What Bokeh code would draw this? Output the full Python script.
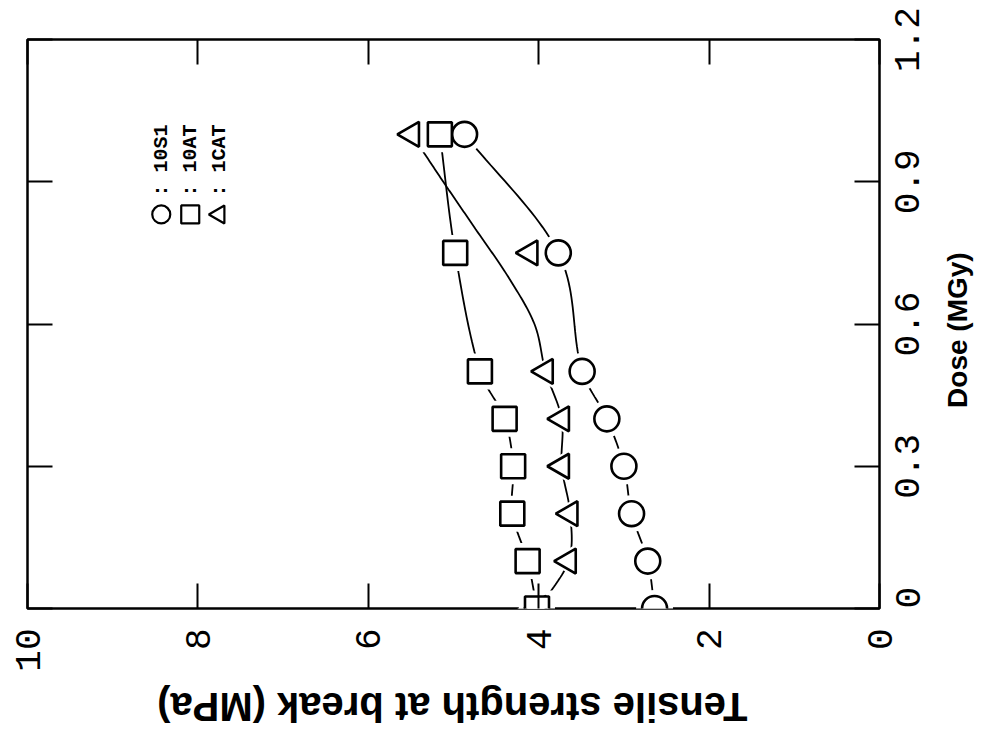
import numpy as np
from bokeh.plotting import figure
from bokeh.models import Range1d, LinearAxis, FixedTicker, ColumnDataSource
from bokeh.core.properties import value
from bokeh.embed import file_html
from bokeh.resources import INLINE

# Irradiation dose (MGy) and tensile strength at break (MPa) for each compound
dose = [0.0, 0.1, 0.2, 0.3, 0.4, 0.5, 0.75, 1.0]
ts_10s1 = [2.64, 2.72, 2.91, 3.00, 3.20, 3.49, 3.77, 4.87]
ts_10at = [4.02, 4.13, 4.31, 4.30, 4.40, 4.69, 4.98, 5.16]
ts_1cat = [4.00, 3.65, 3.63, 3.73, 3.73, 3.92, 4.10, 5.49]

# trend line drawn for 1CAT above 0.5 MGy (passes beside the 0.75 MGy point)
fit_1cat_dose = [0.6, 0.7, 0.8, 0.9]
fit_1cat_ts = [4.05, 4.36, 4.74, 5.12]

series_names = ["10S1", "10AT", "1CAT"]

ts_ticks = [0, 2, 4, 6, 8, 10]
ts_tick_labels = ["0", "2", "4", "6", "8", "10"]
dose_ticks = [0, 0.3, 0.6, 0.9, 1.2]
dose_tick_labels = ["0", "0.3", "0.6", "0.9", "1.2"]

ts_title = "Tensile strength at break (MPa)"
dose_title = "Dose (MGy)"

# pixel geometry of the plotting frame
FRAME_W, FRAME_H = 853, 569
TS_MIN, TS_MAX, DOSE_MIN, DOSE_MAX = 0, 10, 0, 1.2
px_per_ts = FRAME_W / (TS_MAX - TS_MIN)
px_per_dose = FRAME_H / (DOSE_MAX - DOSE_MIN)

TICK_FONT_PX = 36
MONO_ADVANCE = 0.6          # Liberation Mono advance width, in em
TS_TITLE_PX, DOSE_TITLE_PX = 40, 28
TS_TITLE_EM, DOSE_TITLE_EM = 14.84, 5.56   # Liberation Sans Bold string widths, in em


def smooth(xs, ys, n=24):
    """Cubic Hermite curve through the nodes (Catmull-Rom style tangents)."""
    xs = np.asarray(xs, float)
    ys = np.asarray(ys, float)
    m = np.empty_like(ys)
    m[1:-1] = (ys[2:] - ys[:-2]) / (xs[2:] - xs[:-2])
    m[0] = (ys[1] - ys[0]) / (xs[1] - xs[0])
    m[-1] = (ys[-1] - ys[-2]) / (xs[-1] - xs[-2])
    out_x, out_y = [], []
    for i in range(len(xs) - 1):
        h = xs[i + 1] - xs[i]
        t = np.linspace(0, 1, n, endpoint=(i == len(xs) - 2))
        h00 = 2 * t**3 - 3 * t**2 + 1
        h10 = t**3 - 2 * t**2 + t
        h01 = -2 * t**3 + 3 * t**2
        h11 = t**3 - t**2
        out_x.extend(xs[i] + t * h)
        out_y.extend(h00 * ys[i] + h10 * h * m[i] + h01 * ys[i + 1] + h11 * h * m[i + 1])
    return out_x, out_y


p = figure(width=991, height=753, x_range=Range1d(TS_MAX, TS_MIN), y_range=Range1d(DOSE_MIN, DOSE_MAX),
           output_backend="svg", toolbar_location=None,
           x_axis_location="below", y_axis_location="right",
           min_border_left=27, min_border_right=111, min_border_top=39, min_border_bottom=145,
           background_fill_color="white", border_fill_color="white")
p.grid.visible = False
p.outline_line_color = "black"
p.outline_line_width = 2.5

bottom_axis = p.below[0]
right_axis = p.right[0]
top_axis = LinearAxis()
left_axis = LinearAxis()
p.add_layout(top_axis, "above")
p.add_layout(left_axis, "left")

# inward tick marks on all four sides
for ax, ticks in [(bottom_axis, ts_ticks), (top_axis, ts_ticks),
                  (right_axis, dose_ticks), (left_axis, dose_ticks)]:
    ax.ticker = FixedTicker(ticks=ticks, minor_ticks=[])
    ax.major_tick_in = 25
    ax.major_tick_out = 0
    ax.minor_tick_in = 0
    ax.minor_tick_out = 0
    ax.major_tick_line_width = 2
    ax.major_tick_line_color = "black"
    ax.axis_line_color = None

for ax in (top_axis, left_axis, right_axis):
    ax.major_label_text_font_size = "1px"
    ax.major_label_text_color = None
    ax.major_label_standoff = 0

# tensile strength numbers, turned to read upwards
bottom_axis.major_label_overrides = dict(zip(ts_ticks, ts_tick_labels))
bottom_axis.major_label_orientation = np.pi / 2
bottom_axis.major_label_text_font = "Liberation Mono"
bottom_axis.major_label_text_font_size = f"{TICK_FONT_PX}px"
bottom_axis.major_label_text_color = "black"
bottom_axis.major_label_standoff = 20

# dose numbers: an upward label starts at its anchor, so the anchor sits half a label below the tick
def dose_label_anchor(tick, label):
    if tick <= DOSE_MIN:
        return tick
    return tick - 0.5 * len(label) * MONO_ADVANCE * TICK_FONT_PX / px_per_dose

dose_label_pos = [round(dose_label_anchor(t, s), 4) for t, s in zip(dose_ticks, dose_tick_labels)]
dose_label_axis = LinearAxis(ticker=FixedTicker(ticks=dose_label_pos, minor_ticks=[]),
                             major_label_overrides=dict(zip(dose_label_pos, dose_tick_labels)))
dose_label_axis.axis_line_color = None
dose_label_axis.major_tick_line_color = None
dose_label_axis.minor_tick_line_color = None
dose_label_axis.major_tick_in = 0
dose_label_axis.major_tick_out = 0
dose_label_axis.major_label_orientation = np.pi / 2
dose_label_axis.major_label_text_font = "Liberation Mono"
dose_label_axis.major_label_text_font_size = f"{TICK_FONT_PX}px"
dose_label_axis.major_label_text_color = "black"
dose_label_axis.major_label_standoff = 28
p.add_layout(dose_label_axis, "right")

# axis titles, each set as the single label of an extra tick-less axis
ts_title_pos = round(TS_MAX / 2 + 0.5 * TS_TITLE_EM * TS_TITLE_PX / px_per_ts, 3)
dose_title_pos = round(0.587 - 0.5 * DOSE_TITLE_EM * DOSE_TITLE_PX / px_per_dose, 3)
ts_title_axis = LinearAxis(ticker=FixedTicker(ticks=[ts_title_pos], minor_ticks=[]),
                           major_label_overrides={ts_title_pos: ts_title})
dose_title_axis = LinearAxis(ticker=FixedTicker(ticks=[dose_title_pos], minor_ticks=[]),
                             major_label_overrides={dose_title_pos: dose_title})
for ax in (ts_title_axis, dose_title_axis):
    ax.axis_line_color = None
    ax.major_tick_line_color = None
    ax.minor_tick_line_color = None
    ax.major_tick_in = 0
    ax.major_tick_out = 0
    ax.major_label_text_font = "Liberation Sans"
    ax.major_label_text_font_style = "bold"
    ax.major_label_text_color = "black"
ts_title_axis.major_label_orientation = np.pi
ts_title_axis.major_label_text_font_size = f"{TS_TITLE_PX}px"
ts_title_axis.major_label_standoff = 32
dose_title_axis.major_label_orientation = np.pi / 2
dose_title_axis.major_label_text_font_size = f"{DOSE_TITLE_PX}px"
dose_title_axis.major_label_standoff = 23
p.add_layout(ts_title_axis, "below")
p.add_layout(dose_title_axis, "right")

# connecting curves
for ts in (ts_10s1, ts_10at):
    cy, cx = smooth(dose, ts)
    p.line(cx, cy, line_color="black", line_width=1.8)
tri_nodes_d = dose[:6] + fit_1cat_dose + dose[-1:]
tri_nodes_t = ts_1cat[:6] + fit_1cat_ts + ts_1cat[-1:]
cy, cx = smooth(tri_nodes_d, tri_nodes_t)
p.line(cx, cy, line_color="black", line_width=1.8)

markers = [(ts_1cat, "triangle", 25, np.pi / 2),
           (ts_10s1, "circle", 25, 0.0),
           (ts_10at, "square", 24, 0.0)]

# white clearance around the symbols so the curves stop short of them
for ts, mk, sz, ang in markers:
    p.scatter(x=ts, y=dose, marker=mk, size=sz + 12, angle=ang,
              fill_color="white", line_color=None)
for ts, mk, sz, ang in markers:
    p.scatter(x=ts, y=dose, marker=mk, size=sz, angle=ang,
              fill_color="white", line_color="black", line_width=2.6)

# key in the upper left, written sideways
key_x = [8.43, 8.09, 7.75]
key_sym_y = 0.831
key_text_y = 0.869
for kx, name, (ts, mk, sz, ang) in zip(key_x, series_names,
                                       [markers[1], markers[2], markers[0]]):
    p.scatter(x=[kx], y=[key_sym_y], marker=mk, size=18, angle=ang,
              fill_color="white", line_color="black", line_width=2.2)
src = ColumnDataSource(dict(x=key_x, y=[key_text_y] * 3, t=[": " + n for n in series_names]))
p.text(x="x", y="y", text="t", source=src, angle=np.pi / 2,
       text_font=value("Liberation Mono"), text_font_size="20px", text_font_style="bold",
       text_align="left", text_baseline="middle", text_color="black")

open("out.html", "w").write(file_html(p, INLINE))
